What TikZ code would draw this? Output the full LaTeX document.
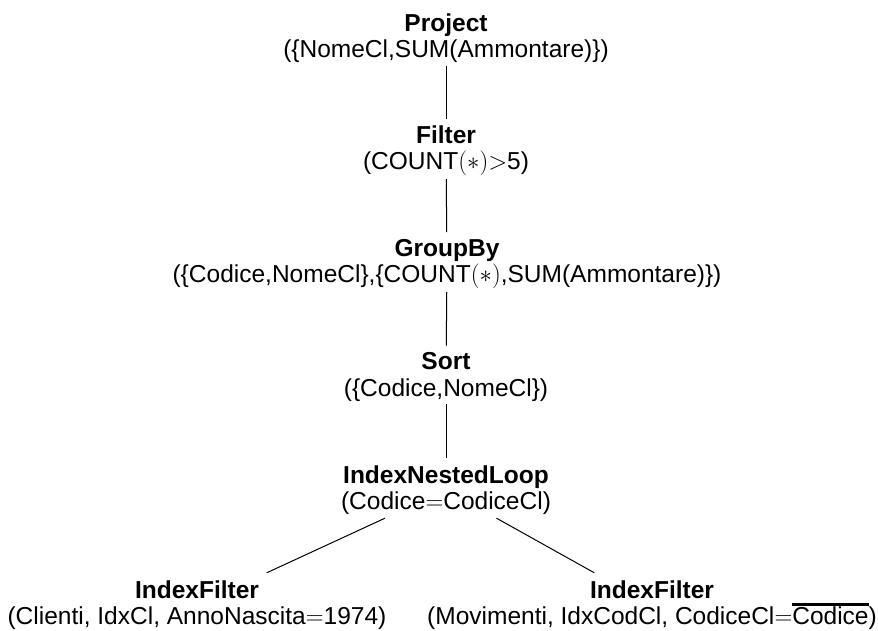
\documentclass[tikz,border=0pt]{standalone}
\usepackage{fontspec}
\setmainfont{Liberation Sans}
\usetikzlibrary{calc}
\newcommand{\thickbar}[1]{\vbox{\hrule height 2.4bp\kern 1.2bp\hbox{#1}}}
\begin{document}
\begin{tikzpicture}[x=1bp,y=-1bp,
  op/.style={align=center, font=\fontsize{24.6}{26.5}\selectfont, inner sep=0pt, outer sep=0pt},
  link/.style={line width=1bp, shorten <=3bp, shorten >=7bp},
  dlink/.style={line width=1bp}]
\useasboundingbox (0,0) rectangle (878,631);
\node[op] (project) at (446,38) {\textbf{Project}\\(\{NomeCl,SUM(Ammontare)\})};
\node[op] (filter) at (446,151) {\textbf{Filter}\\(COUNT$(\ast){>}$5)};
\node[op] (groupby) at (447,264) {\textbf{GroupBy}\\(\{Codice,NomeCl\},\{COUNT$(\ast)$,SUM(Ammontare)\})};
\node[op] (sort) at (446,377) {\textbf{Sort}\\(\{Codice,NomeCl\})};
\node[op] (inl) at (446,490) {\textbf{IndexNestedLoop}\\(Codice${=}$CodiceCl)};
\node[op] (lf) at (197,605) {\textbf{IndexFilter}\\(Clienti, IdxCl, AnnoNascita${=}$1974)};
\node[op] (rf) at (652,605) {\textbf{IndexFilter}\\(Movimenti, IdxCodCl, CodiceCl${=}$\thickbar{Codice})};
\draw[link] (project) -- (filter);
\draw[link] (filter) -- (groupby);
\draw[link] (groupby) -- (sort);
\draw[link] (sort) -- (inl);
\draw[dlink] ($(inl)!0.245!(lf)$) -- ($(inl)!0.72!(lf)$);
\draw[dlink] ($(inl)!0.245!(rf)$) -- ($(inl)!0.72!(rf)$);
\end{tikzpicture}
\end{document}
